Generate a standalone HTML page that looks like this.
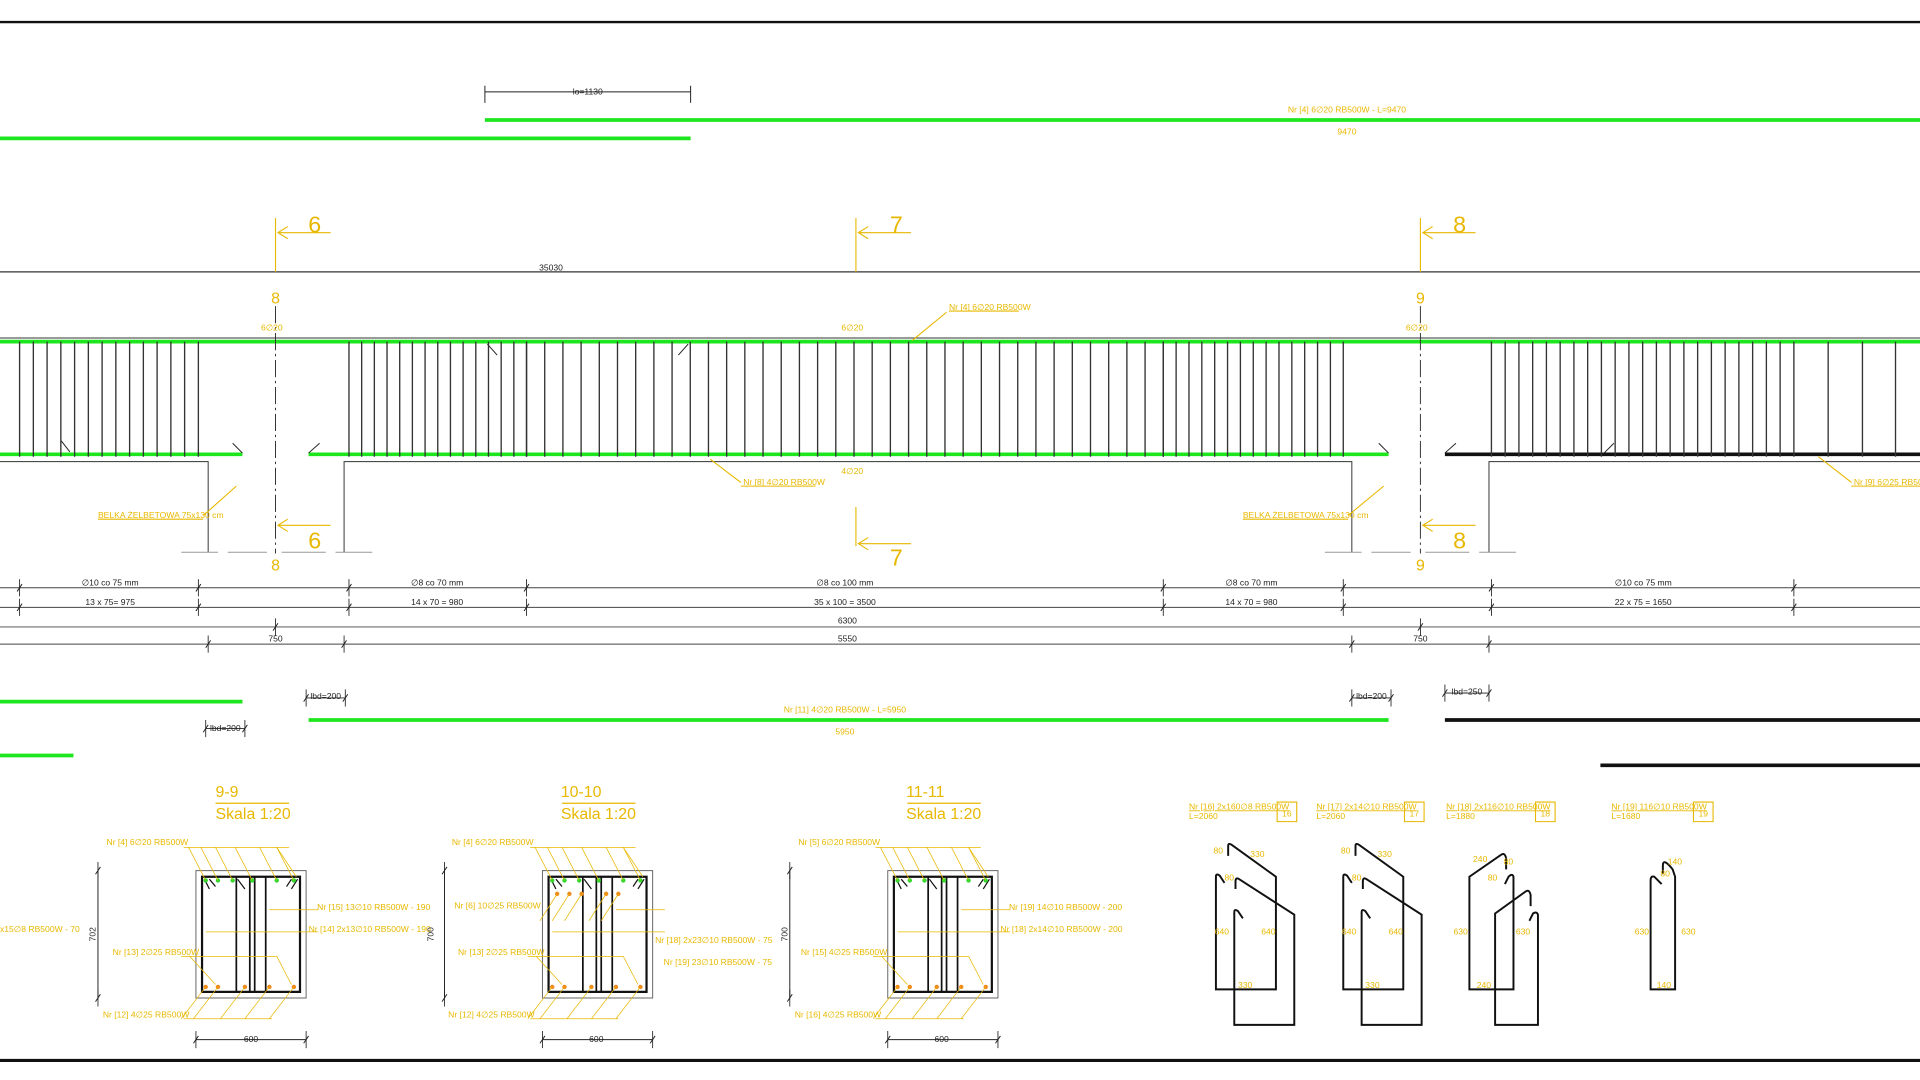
<!DOCTYPE html>
<html><head><meta charset="utf-8"><style>
html,body{margin:0;padding:0;background:#fff;}
svg{display:block}
text{font-family:"Liberation Sans Narrow","Liberation Sans",sans-serif;}
.y{fill:#e8b800;font-size:7px}
.k{fill:#222;font-size:7px}
.big{fill:#e8b800;font-size:19px}
.mid{fill:#e8b800;font-size:13px}
</style></head><body>
<svg id="s" width="1920" height="1080" viewBox="0 0 1568 882" preserveAspectRatio="none" xmlns="http://www.w3.org/2000/svg">
<g id="g" stroke-linecap="butt" fill="none">
<!-- borders -->
<line x1="0" y1="18" x2="1568" y2="18" stroke="#111" stroke-width="2"/>
<line x1="0" y1="866" x2="1568" y2="866" stroke="#111" stroke-width="2.5"/>
<!-- top lo dim -->
<line x1="396" y1="75" x2="564" y2="75" stroke="#222" stroke-width="0.8"/>
<line x1="396" y1="70" x2="396" y2="84" stroke="#222" stroke-width="0.8"/>
<line x1="564" y1="70" x2="564" y2="84" stroke="#222" stroke-width="0.8"/>
<!-- top greens -->
<line x1="0" y1="113" x2="564" y2="113" stroke="#1ee61e" stroke-width="3"/>
<line x1="396" y1="98" x2="1568" y2="98" stroke="#1ee61e" stroke-width="3"/>
<!-- 35030 line -->
<line x1="0" y1="222" x2="1568" y2="222" stroke="#333" stroke-width="1"/>
<!-- beam top thin line and top rebar -->
<line x1="0" y1="276" x2="1568" y2="276" stroke="#333" stroke-width="0.8"/>
<line x1="0" y1="279" x2="1568" y2="279" stroke="#1ee61e" stroke-width="3"/>
<!-- bottom rebars -->
<line x1="0" y1="371" x2="198" y2="371" stroke="#1ee61e" stroke-width="3"/>
<line x1="252" y1="371" x2="1134" y2="371" stroke="#1ee61e" stroke-width="3"/>
<line x1="1180" y1="371" x2="1568" y2="371" stroke="#111" stroke-width="3"/>
<path d="M190 362 L198 370 M252 370 L261 362 M1126 362 L1134 370 M1180 370 L1189 362 M50 360 L57 369 M398 281 L406 290 M562 281 L554 290 M1318 362 L1310 370" stroke="#222" stroke-width="0.8"/>
<!-- beam outlines -->
<path d="M0 377 H170 V451 M281 451 V377 H1104 V451 M1216 451 V377 H1568" stroke="#333" stroke-width="0.8"/>
<path d="M148 451 H178 M186 451 H218 M230 451 H266 M274 451 H304 M1082 451 H1112 M1120 451 H1152 M1164 451 H1200 M1208 451 H1238" stroke="#999" stroke-width="0.8"/>
<!-- centerlines -->
<line x1="225" y1="250" x2="225" y2="452" stroke="#333" stroke-width="0.8" stroke-dasharray="14 3 2 3"/>
<line x1="1160" y1="250" x2="1160" y2="452" stroke="#333" stroke-width="0.8" stroke-dasharray="14 3 2 3"/>
<!-- section markers -->
<g stroke="#e8b800" stroke-width="0.9">
<path d="M225 178 V222 M270 190 H227 M235 185 L227 190 L235 195"/>
<path d="M699 178 V222 M744 190 H701 M709 185 L701 190 L709 195"/>
<path d="M1160 178 V222 M1205 190 H1162 M1170 185 L1162 190 L1170 195"/>
<path d="M270 429 H227 M235 424 L227 429 L235 434"/>
<path d="M699 414 V446 M744 444 H701 M709 439 L701 444 L709 449"/>
<path d="M1205 429 H1162 M1170 424 L1162 429 L1170 434"/>
<path d="M166 421 L193 397 M1101 421 L1130 397 M745 278 L773 255 M580 375 L605 394 M1485 373 L1512 394"/>
<path d="M80 424 H166 M1015 424 H1101 M775 254 H832 M605 397 H666 M1512 397 H1568"/>
</g>
</g>
<text x="480" y="77" class="k" text-anchor="middle">lo=1130</text>
<text x="1100" y="92" class="y" text-anchor="middle">Nr [4] 6∅20 RB500W - L=9470</text>
<text x="1100" y="110" class="y" text-anchor="middle">9470</text>
<text x="450" y="221" class="k" text-anchor="middle">35030</text>
<text x="257" y="190" class="big" text-anchor="middle">6</text>
<text x="732" y="190" class="big" text-anchor="middle">7</text>
<text x="1192" y="190" class="big" text-anchor="middle">8</text>
<text x="257" y="448" class="big" text-anchor="middle">6</text>
<text x="732" y="462" class="big" text-anchor="middle">7</text>
<text x="1192" y="448" class="big" text-anchor="middle">8</text>
<text x="225" y="248" class="mid" text-anchor="middle">8</text>
<text x="1160" y="248" class="mid" text-anchor="middle">9</text>
<text x="225" y="466" class="mid" text-anchor="middle">8</text>
<text x="1160" y="466" class="mid" text-anchor="middle">9</text>
<text x="222" y="270" class="y" font-size="9" text-anchor="middle">6∅20</text>
<text x="696" y="270" class="y" font-size="9" text-anchor="middle">6∅20</text>
<text x="1157" y="270" class="y" font-size="9" text-anchor="middle">6∅20</text>
<text x="696" y="387" class="y" font-size="9" text-anchor="middle">4∅20</text>
<text x="775" y="253" class="y">Nr [4] 6∅20 RB500W</text>
<text x="607" y="396" class="y">Nr [8] 4∅20 RB500W</text>
<text x="1514" y="396" class="y">Nr [9] 6∅25 RB500W</text>
<text x="80" y="423" class="y">BELKA ŻELBETOWA 75x130 cm</text>
<text x="1015" y="423" class="y">BELKA ŻELBETOWA 75x130 cm</text>
<!-- dims text -->
<text x="90" y="478" class="k" text-anchor="middle">∅10 co 75 mm</text>
<text x="90" y="494" class="k" text-anchor="middle">13 x 75= 975</text>
<text x="357" y="478" class="k" text-anchor="middle">∅8 co 70 mm</text>
<text x="357" y="494" class="k" text-anchor="middle">14 x 70 = 980</text>
<text x="690" y="478" class="k" text-anchor="middle">∅8 co 100 mm</text>
<text x="690" y="494" class="k" text-anchor="middle">35 x 100 = 3500</text>
<text x="1022" y="478" class="k" text-anchor="middle">∅8 co 70 mm</text>
<text x="1022" y="494" class="k" text-anchor="middle">14 x 70 = 980</text>
<text x="1342" y="478" class="k" text-anchor="middle">∅10 co 75 mm</text>
<text x="1342" y="494" class="k" text-anchor="middle">22 x 75 = 1650</text>
<text x="692" y="509" class="k" text-anchor="middle">6300</text>
<text x="692" y="524" class="k" text-anchor="middle">5550</text>
<text x="225" y="524" class="k" text-anchor="middle">750</text>
<text x="1160" y="524" class="k" text-anchor="middle">750</text>
<text x="266" y="571" class="k" font-size="6" text-anchor="middle">lbd=200</text>
<text x="184" y="597" class="k" font-size="6" text-anchor="middle">lbd=200</text>
<text x="1120" y="571" class="k" font-size="6" text-anchor="middle">lbd=200</text>
<text x="1198" y="567" class="k" font-size="6" text-anchor="middle">lbd=250</text>
<text x="690" y="582" class="y" text-anchor="middle">Nr [11] 4∅20 RB500W - L=5950</text>
<text x="690" y="600" class="y" text-anchor="middle">5950</text>
<!-- section titles -->
<text x="176" y="651" class="mid">9-9</text><text x="176" y="669" class="mid">Skala 1:20</text>
<text x="458" y="651" class="mid">10-10</text><text x="458" y="669" class="mid">Skala 1:20</text>
<text x="740" y="651" class="mid">11-11</text><text x="740" y="669" class="mid">Skala 1:20</text>
<text x="87" y="690" class="y" font-size="6">Nr [4] 6∅20 RB500W</text>
<text x="369" y="690" class="y" font-size="6">Nr [4] 6∅20 RB500W</text>
<text x="652" y="690" class="y" font-size="6">Nr [5] 6∅20 RB500W</text>
<text x="259" y="743" class="y" font-size="6">Nr [15] 13∅10 RB500W - 190</text>
<text x="252" y="761" class="y" font-size="6">Nr [14] 2x13∅10 RB500W - 190</text>
<text x="0" y="761" class="y" font-size="6">x15∅8 RB500W - 70</text>
<text x="92" y="780" class="y" font-size="6">Nr [13] 2∅25 RB500W</text>
<text x="84" y="831" class="y" font-size="6">Nr [12] 4∅25 RB500W</text>
<text x="371" y="742" class="y" font-size="6">Nr [6] 10∅25 RB500W</text>
<text x="374" y="780" class="y" font-size="6">Nr [13] 2∅25 RB500W</text>
<text x="366" y="831" class="y" font-size="6">Nr [12] 4∅25 RB500W</text>
<text x="535" y="770" class="y" font-size="6">Nr [18] 2x23∅10 RB500W - 75</text>
<text x="542" y="788" class="y" font-size="6">Nr [19] 23∅10 RB500W - 75</text>
<text x="654" y="780" class="y" font-size="6">Nr [15] 4∅25 RB500W</text>
<text x="649" y="831" class="y" font-size="6">Nr [16] 4∅25 RB500W</text>
<text x="824" y="743" class="y" font-size="6">Nr [19] 14∅10 RB500W - 200</text>
<text x="817" y="761" class="y" font-size="6">Nr [18] 2x14∅10 RB500W - 200</text>
<text x="205" y="851" class="k" text-anchor="middle">600</text>
<text x="487" y="851" class="k" text-anchor="middle">600</text>
<text x="769" y="851" class="k" text-anchor="middle">600</text>
<text transform="translate(78,763) rotate(-90)" class="k" text-anchor="middle">702</text>
<text transform="translate(354,763) rotate(-90)" class="k" text-anchor="middle">700</text>
<text transform="translate(643,763) rotate(-90)" class="k" text-anchor="middle">700</text>
<!-- bending schedule labels -->
<text x="971" y="661" class="y" font-size="6.5" text-decoration="underline">Nr [16] 2x160∅8 RB500W</text><text x="971" y="669" class="y" font-size="6.5">L=2060</text>
<text x="1075" y="661" class="y" font-size="6.5" text-decoration="underline">Nr [17] 2x14∅10 RB500W</text><text x="1075" y="669" class="y" font-size="6.5">L=2060</text>
<text x="1181" y="661" class="y" font-size="6.5" text-decoration="underline">Nr [18] 2x116∅10 RB500W</text><text x="1181" y="669" class="y" font-size="6.5">L=1880</text>
<text x="1316" y="661" class="y" font-size="6.5" text-decoration="underline">Nr [19] 116∅10 RB500W</text><text x="1316" y="669" class="y" font-size="6.5">L=1680</text>
<text x="1051" y="667" class="y" font-size="10" text-anchor="middle">16</text>
<text x="1155" y="667" class="y" font-size="10" text-anchor="middle">17</text>
<text x="1262" y="667" class="y" font-size="10" text-anchor="middle">18</text>
<text x="1391" y="667" class="y" font-size="10" text-anchor="middle">19</text>
<g class="y" font-size="6">
<text x="991" y="697">80</text><text x="1021" y="700">330</text><text x="1000" y="719">80</text><text x="992" y="763">640</text><text x="1030" y="763">640</text><text x="1011" y="807">330</text>
<text x="1095" y="697">80</text><text x="1125" y="700">330</text><text x="1104" y="719">80</text><text x="1096" y="763">640</text><text x="1134" y="763">640</text><text x="1115" y="807">330</text>
<text x="1203" y="704">240</text><text x="1228" y="706">80</text><text x="1215" y="719">80</text><text x="1187" y="763">630</text><text x="1238" y="763">630</text><text x="1206" y="807">240</text>
<text x="1362" y="706">140</text><text x="1356" y="716">80</text><text x="1335" y="763">630</text><text x="1373" y="763">630</text><text x="1353" y="807">140</text>
</g>
</svg>
<script>
var g=document.getElementById('g'),N='http://www.w3.org/2000/svg';
function L(x1,y1,x2,y2,c,w,da){var e=document.createElementNS(N,'line');e.setAttribute('x1',x1);e.setAttribute('y1',y1);e.setAttribute('x2',x2);e.setAttribute('y2',y2);e.setAttribute('stroke',c);e.setAttribute('stroke-width',w);if(da)e.setAttribute('stroke-dasharray',da);g.appendChild(e);}
function P(d,c,w,f){var e=document.createElementNS(N,'path');e.setAttribute('d',d);e.setAttribute('stroke',c);e.setAttribute('stroke-width',w);e.setAttribute('fill',f||'none');g.appendChild(e);}
function C(x,y,r,c){var e=document.createElementNS(N,'circle');e.setAttribute('cx',x);e.setAttribute('cy',y);e.setAttribute('r',r);e.setAttribute('fill',c);g.appendChild(e);}
function grp(a,b,n){for(var i=0;i<=n;i++){var x=a+(b-a)*i/n;L(x,279,x,373,'#333',1.1);}}
grp(16,162,13);grp(285,430,14);grp(430,950,35);grp(950,1097,14);grp(1218,1465,22);
[1493,1521,1548].forEach(function(x){L(x,279,x,373,'#333',1.1);});
// dimension rows
function tick(x,y){L(x-2,y+3,x+2,y-3,'#222',0.8);L(x,y-7,x,y+7,'#222',0.7);}
L(0,480,1568,480,'#444',0.8);L(0,496,1568,496,'#444',0.8);
[16,162,285,430,950,1097,1218,1465].forEach(function(x){tick(x,480);tick(x,496);});
L(0,512,1568,512,'#444',0.8);L(0,526,1568,526,'#444',0.8);
[225,1160].forEach(function(x){tick(x,512);});[170,281,1104,1216].forEach(function(x){tick(x,526);});
// lower bars
L(0,573,198,573,'#1ee61e',3);L(252,588,1134,588,'#1ee61e',3);L(0,617,60,617,'#1ee61e',3);
L(1180,588,1568,588,'#111',3);L(1307,625,1568,625,'#111',3);
[[250,282,570],[168,200,595],[1104,1136,570],[1180,1216,566]].forEach(function(a){L(a[0],a[2],a[1],a[2],'#222',0.7);tick(a[0],a[2]);tick(a[1],a[2]);});
// sections
function sec(x0,title,dots){
 var Y='#e8b800';
 P('M'+x0+' 711 H'+(x0+90)+' V815 H'+x0+' Z','#666',0.8);
 P('M'+(x0+5)+' 716 H'+(x0+85)+' V810 H'+(x0+5)+' Z','#111',1.8);
 P('M'+(x0+33)+' 716 V810 M'+(x0+44)+' 716 V810 M'+(x0+48)+' 716 V810 M'+(x0+57)+' 716 V810','#111',1.4);
 P('M'+(x0+7)+' 718 L'+(x0+11)+' 726 M'+(x0+11)+' 718 L'+(x0+16)+' 724 M'+(x0+83)+' 718 L'+(x0+78)+' 726 M'+(x0+78)+' 718 L'+(x0+74)+' 724 M'+(x0+34)+' 718 L'+(x0+40)+' 726','#111',1);
 [8,18,30,46,66,80].forEach(function(d,i){C(x0+d,719,1.8,'#2bd92b');L(x0+d,719,x0+d-14+i*0,692,Y,0.6);});
 L(x0-10,692,x0+76,692,Y,0.6);L(x0+66,692,x0+82,716,Y,0.6);
 [8,18,40,60,80].forEach(function(d){C(x0+d,806,1.8,'#f08a1a');L(x0+d,806,x0+d-20,832,Y,0.6);});
 L(x0-10,832,x0+62,832,Y,0.6);
 L(x0-12,781,x0+66,781,Y,0.6);L(x0+66,781,x0+78,804,Y,0.6);L(x0-5,781,x0+16,804,Y,0.6);
 if(dots){[12,22,32,52,62].forEach(function(d){C(x0+d,730,1.8,'#f08a1a');L(x0+d,730,x0+d-14,752,Y,0.6);});}
 L(x0+8,761,x0+100,761,Y,0.6);L(x0+60,743,x0+100,743,Y,0.6);
 L(x0-80,711,x0-80,815,'#222',0.8);tick(x0-80,711);tick(x0-80,815);
 L(x0,849,x0+90,849,'#222',0.8);tick(x0,849);tick(x0+90,849);
 L(x0+16,656,x0+76,656,Y,1);
}
sec(160,'9-9',false);sec(443,'10-10',true);sec(725,'11-11',false);
// boxes
[[1043,655,16,16],[1147,655,16,16],[1254,655,16,16],[1383,655,16,16]].forEach(function(b){P('M'+b[0]+' '+b[1]+' h'+b[2]+' v'+b[3]+' h-'+b[2]+' Z','#e8b800',0.9);});
// shapes
var K='#111';
function s16(o){
 P('M'+(1003+o)+' 699 V691 Q'+(1003+o)+' 688 '+(1006+o)+' 690 L'+(1042+o)+' 716 V808 H'+(993+o)+' V716 Q'+(993+o)+' 713 '+(996+o)+' 715 L'+(1000+o)+' 721',K,1.6);
 P('M'+(1009+o)+' 726 V720 Q'+(1009+o)+' 716 '+(1012+o)+' 718 L'+(1057+o)+' 747 V837 H'+(1008+o)+' V745 Q'+(1008+o)+' 742 '+(1011+o)+' 744 L'+(1015+o)+' 750',K,1.6);
}
s16(0);s16(104);
P('M1230 710 V701 Q1229 696 1226 698 L1200 716 V808 H1236 V716 Q1235 713 1232 716 L1229 722',K,1.6);
P('M1250 740 V731 Q1249 726 1246 728 L1221 746 V837 H1256 V747 Q1255 744 1252 746 L1249 752',K,1.6);
P('M1357 722 L1351 716 Q1348 715 1348 719 V808 H1368 V716 L1366 710 Q1358 700 1358 707 V714',K,1.6);
</script>
</body></html>
